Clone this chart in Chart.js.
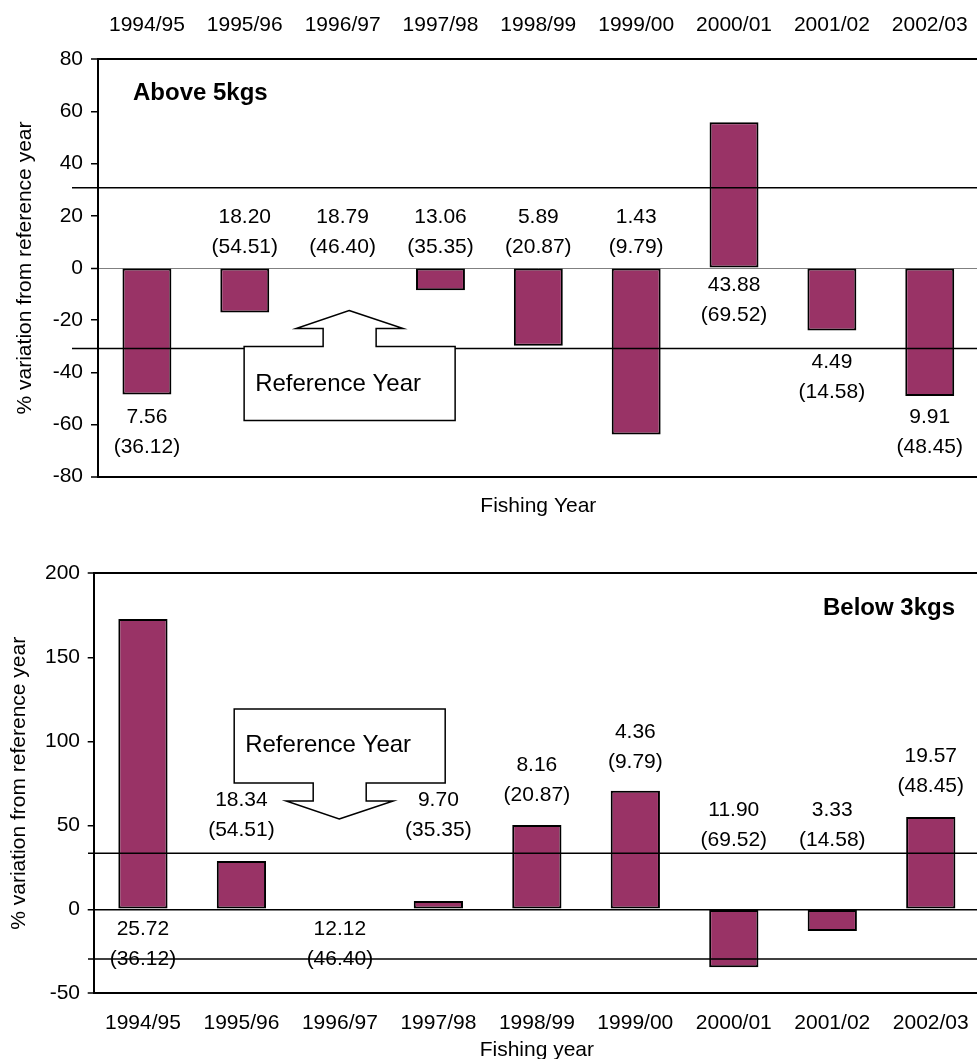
<!DOCTYPE html>
<html>
<head>
<meta charset="utf-8">
<script src="https://cdn.jsdelivr.net/npm/chart.js@4.4.1/dist/chart.umd.min.js"></script>
<style>
  html, body { margin: 0; padding: 0; background: #fff; overflow: hidden; width: 977px; height: 1059px; }
  #wrap { position: relative; width: 977px; height: 1059px; overflow: hidden; }
  canvas { position: absolute; left: 0; }
  #above { top: 0; }
  #below { top: 540px; }
</style>
</head>
<body>
<div id="wrap">
  <canvas id="above" width="990" height="540"></canvas>
  <canvas id="below" width="990" height="530"></canvas>
</div>
<script>
// --- Data ---
const fishingYears = ['1994/95', '1995/96', '1996/97', '1997/98', '1998/99', '1999/00', '2000/01', '2001/02', '2002/03'];

// % variation from the reference year (1996/97)
const above5kgs = [-48.5, -17.1, 0, -8.5, -29.8, -63.8, 55.9, -24.0, -49.1];
const below3kgs = [172.8, 28.7, 0, 4.9, 50.2, 70.6, -34.5, -12.9, 54.9];

// catch in the size class, and total catch (in brackets)
const above5Catch = ['7.56', '18.20', '18.79', '13.06', '5.89', '1.43', '43.88', '4.49', '9.91'];
const below3Catch = ['25.72', '18.34', '12.12', '9.70', '8.16', '4.36', '11.90', '3.33', '19.57'];
const totalCatch = ['(36.12)', '(54.51)', '(46.40)', '(35.35)', '(20.87)', '(9.79)', '(69.52)', '(14.58)', '(48.45)'];

const above5Ticks = { min: -80, max: 80, step: 20 };
const below3Ticks = { min: -50, max: 200, step: 50 };

// where the catch labels sit, in axis units
const above5LabelAt = [-57.3, 19.4, 19.4, 19.4, 19.4, 19.4, -6.6, -36.3, -57.2];
const below3LabelAt = [-11.9, 65.1, -11.9, 65.1, 85.5, 105.7, 59.1, 59.1, 91.4];

// horizontal guide lines, in axis units
const above5Guides = [30.8, -30.9];
const below3Guides = [33.3, -29.6];

const FONT = 'Liberation Sans, Arial, Helvetica, sans-serif';
const BAR_COLOR = '#993366';

Chart.defaults.font.family = FONT;
Chart.defaults.font.size = 21;
Chart.defaults.color = '#000';

// --- Drawing helpers ---

function drawCallout(ctx, tx, ty, dir) {
    // dir = 1: box under the tip (arrow up), dir = -1: box above (arrow down)
    ctx.beginPath();
    ctx.moveTo(tx, ty);
    ctx.lineTo(tx + 54, ty + 18 * dir);
    ctx.lineTo(tx + 27, ty + 18 * dir);
    ctx.lineTo(tx + 27, ty + 36 * dir);
    ctx.lineTo(tx + 106, ty + 36 * dir);
    ctx.lineTo(tx + 106, ty + 110 * dir);
    ctx.lineTo(tx - 105, ty + 110 * dir);
    ctx.lineTo(tx - 105, ty + 36 * dir);
    ctx.lineTo(tx - 26, ty + 36 * dir);
    ctx.lineTo(tx - 26, ty + 18 * dir);
    ctx.lineTo(tx - 53, ty + 18 * dir);
    ctx.closePath();
    ctx.fillStyle = '#fff';
    ctx.fill();
    ctx.strokeStyle = '#000';
    ctx.lineWidth = 1.5;
    ctx.stroke();

    ctx.fillStyle = '#000';
    ctx.font = '24px ' + FONT;
    ctx.textAlign = 'left';
    ctx.textBaseline = 'middle';
    ctx.fillText('Reference Year', tx - 94, ty + 74 * dir);
}

const annotationPlugin = {
    id: 'annot',
    afterDatasetsDraw(chart, args, opts) {
        const ctx = chart.ctx;
        const xs = chart.scales.x;
        const ys = chart.scales.y;
        const area = chart.chartArea;
        ctx.save();

        // guide lines run over the bars
        ctx.strokeStyle = '#000';
        ctx.lineWidth = 1.5;
        opts.guides.forEach(v => {
            const py = ys.getPixelForValue(v);
            ctx.beginPath();
            ctx.moveTo(opts.guideStart, py);
            ctx.lineTo(chart.width, py);
            ctx.stroke();
        });

        drawCallout(ctx, xs.getPixelForValue(opts.refIndex) + opts.refDx, ys.getPixelForValue(opts.refTip), opts.refDir);

        // catch labels
        ctx.fillStyle = '#000';
        ctx.font = '21px ' + FONT;
        ctx.textAlign = 'center';
        ctx.textBaseline = 'middle';
        opts.catchLabels.forEach((txt, i) => {
            const px = xs.getPixelForValue(i);
            const py = ys.getPixelForValue(opts.labelAt[i]);
            ctx.fillText(txt, px, py);
            ctx.fillText(totalCatch[i], px, py + 30);
        });

        // size class heading
        ctx.font = 'bold 24px ' + FONT;
        ctx.textAlign = opts.heading.align;
        const hx = opts.heading.align === 'left' ? area.left + opts.heading.dx : area.right - opts.heading.dx;
        ctx.fillText(opts.heading.text, hx, area.top + opts.heading.dy);

        ctx.restore();
    }
};

function gridColor(limits) {
    return c => {
        const v = c.tick.value;
        if (v === limits.min || v === limits.max) return '#000';
        if (v === 0) return limits.zeroColor;
        return 'rgba(0,0,0,0)';
    };
}

function gridWidth(limits) {
    return c => {
        const v = c.tick.value;
        if (v === limits.min || v === limits.max) return 2;
        return 1.5;
    };
}

// --- Charts ---

new Chart(document.getElementById('above'), {
    type: 'bar',
    data: {
        labels: fishingYears,
        datasets: [{
            data: above5kgs,
            backgroundColor: BAR_COLOR,
            borderColor: '#000',
            borderWidth: 2,
            borderSkipped: false,
            barPercentage: 0.5,
            categoryPercentage: 1.0
        }]
    },
    options: {
        responsive: false,
        animation: false,
        layout: { padding: { left: 0, right: 11, top: 0, bottom: 0 } },
        scales: {
            x: {
                position: 'top',
                grid: { display: false, drawTicks: false },
                border: { display: false },
                ticks: { padding: 21.7, maxRotation: 0, autoSkip: false },
                afterFit: axis => { axis.height = 59.3; }
            },
            x2: {
                type: 'category',
                position: 'bottom',
                grid: { display: false, drawTicks: false },
                border: { display: false },
                ticks: { display: false },
                title: { display: true, text: 'Fishing Year', padding: { top: 0, bottom: 21.4 } },
                afterFit: axis => { axis.height = 63.3; }
            },
            y: {
                min: above5Ticks.min,
                max: above5Ticks.max,
                ticks: { stepSize: above5Ticks.step, padding: 8 },
                grid: {
                    tickLength: 7,
                    tickColor: '#000',
                    tickWidth: 1.5,
                    color: gridColor({ min: above5Ticks.min, max: above5Ticks.max, zeroColor: '#808080' }),
                    lineWidth: c => (c.tick.value === 0 ? 1 : gridWidth(above5Ticks)(c))
                },
                border: { color: '#000', width: 2 },
                title: { display: true, text: '% variation from reference year', padding: { top: 12.4, bottom: 0 } },
                afterFit: axis => { axis.width = 98; }
            }
        },
        plugins: {
            legend: { display: false },
            tooltip: { enabled: false },
            annot: {
                guides: above5Guides,
                guideStart: 72,
                refIndex: 2,
                refDx: 6.5,
                refTip: -16.3,
                refDir: 1,
                catchLabels: above5Catch,
                labelAt: above5LabelAt,
                heading: { text: 'Above 5kgs', align: 'left', dx: 35, dy: 34 }
            }
        }
    },
    plugins: [annotationPlugin]
});

new Chart(document.getElementById('below'), {
    type: 'bar',
    data: {
        labels: fishingYears,
        datasets: [{
            data: below3kgs,
            backgroundColor: BAR_COLOR,
            borderColor: '#000',
            borderWidth: 2,
            borderSkipped: false,
            barPercentage: 0.5,
            categoryPercentage: 1.0
        }]
    },
    options: {
        responsive: false,
        animation: false,
        layout: { padding: { left: 0, right: 10, top: 33.3, bottom: 0 } },
        scales: {
            x: {
                position: 'bottom',
                grid: { display: false, drawTicks: false },
                border: { display: false },
                ticks: { padding: 17.4, maxRotation: 0, autoSkip: false },
                title: { display: true, text: 'Fishing year', padding: { top: 0, bottom: 7.4 } },
                afterFit: axis => { axis.height = 76.7; }
            },
            y: {
                min: below3Ticks.min,
                max: below3Ticks.max,
                ticks: { stepSize: below3Ticks.step, padding: 7.7 },
                grid: {
                    tickLength: 6,
                    tickColor: '#000',
                    tickWidth: 1.5,
                    color: gridColor({ min: below3Ticks.min, max: below3Ticks.max, zeroColor: '#000' }),
                    lineWidth: gridWidth(below3Ticks)
                },
                border: { color: '#000', width: 2 },
                title: { display: true, text: '% variation from reference year', padding: { top: 6.4, bottom: 0 } },
                afterFit: axis => { axis.width = 93.7; }
            }
        },
        plugins: {
            legend: { display: false },
            tooltip: { enabled: false },
            annot: {
                guides: below3Guides,
                guideStart: 88,
                refIndex: 2,
                refDx: -0.7,
                refTip: 53.75,
                refDir: -1,
                catchLabels: below3Catch,
                labelAt: below3LabelAt,
                heading: { text: 'Below 3kgs', align: 'right', dx: 25, dy: 35 }
            }
        }
    },
    plugins: [annotationPlugin]
});
</script>
</body>
</html>
